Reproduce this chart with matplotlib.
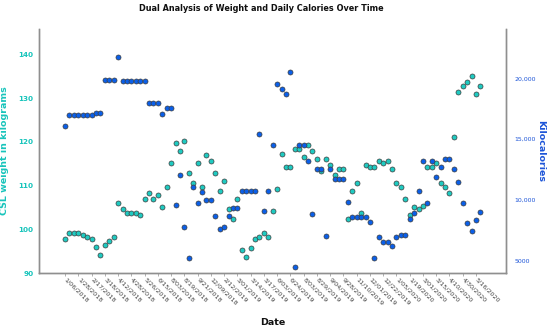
import matplotlib
matplotlib.use("Agg")
import matplotlib.pyplot as plt
import numpy as np

# ---- data ----
weight_kg = [
    97.8, 99.2, 99.2, 99.2, 98.7, 98.3, 97.8, 96.0, 94.2, 96.5,
    97.4, 98.3, 106.0, 104.6, 103.8, 103.8, 103.8, 103.3, 106.9, 108.3,
    106.9, 107.8, 105.1, 109.7, 115.1, 119.7, 117.9, 120.1, 112.8, 110.5,
    115.1, 109.7, 116.9, 115.6, 112.8, 108.7, 111.0, 104.6, 102.3, 106.9,
    95.2, 93.7, 95.8, 97.8, 98.3, 99.2, 98.3, 104.2, 109.2, 117.3,
    114.2, 114.2, 118.3, 118.3, 116.5, 119.2, 117.9, 116.0, 113.3, 116.0,
    114.7, 112.4, 113.7, 113.7, 102.3, 108.7, 110.5, 103.7, 114.7, 114.2,
    114.2, 115.6, 115.1, 115.6, 113.7, 110.5, 109.7, 106.9, 103.2, 105.1,
    104.6, 105.4, 114.2, 114.2, 115.1, 110.5, 109.6, 108.3, 121.0, 131.4,
    132.8, 133.7, 135.1, 131.0, 132.8,
]

kilocalories = [
    16100, 17000, 17000, 17000, 17000, 17000, 17000, 17150, 17150, 19900,
    19900, 19900, 21750, 19800, 19800, 19800, 19800, 19800, 19800, 17950,
    17950, 17950, 17050, 17600, 17600, 9570, 12090, 7770, 5220, 11080,
    9790, 10640, 10010, 10010, 8720, 7650, 7820, 8720, 9320, 9320,
    10720, 10720, 10720, 10720, 15400, 9130, 10720, 14550, 19530, 19100,
    18710, 20490, 4510, 14500, 14500, 13240, 8880, 12580, 12580, 7050,
    12580, 11730, 11730, 11730, 9840, 8640, 8640, 8640, 8640, 8200,
    5270, 6950, 6560, 6560, 6230, 6950, 7140, 7140, 8420, 8940,
    10720, 13240, 9790, 13240, 11900, 12740, 13400, 13400, 12530, 11510,
    9790, 8100, 7490, 8340, 9000,
]

date_tick_labels = [
    "1/06/2018", "1/28/2018", "2/17/2018", "3/18/2018", "4/12/2018", "4/28/2018",
    "5/26/2018", "6/15/2018", "8/03/2018", "8/19/2018", "9/21/2018", "12/09/2018",
    "2/12/2019", "3/01/2019", "3/14/2019", "3/17/2019", "6/03/2019", "6/24/2019",
    "8/03/2019", "8/29/2019", "9/04/2019", "9/28/2019", "11/10/2019", "12/01/2019",
    "12/22/2019", "1/05/2020", "1/19/2020", "3/01/2020", "3/15/2020", "4/10/2020",
    "4/30/2020", "5/16/2020",
]
label_step = 3

left_ticks = [90, 100, 110, 120, 130, 140]
right_ticks = [5000, 10000, 15000, 20000]
right_tick_labels = ["5000", "10,000", "15,000", "20,000"]

# ---- styling ----
TEAL = "#1fcac1"
BLUE = "#0b5fe8"
TEAL_TXT = "#17c4bb"
BLUE_TXT = "#1d55d8"
EDGE = "#3d3d3d"
SPINE = "#8f8f8f"

plt.rcParams["font.family"] = ["DejaVu Sans"]

fig = plt.figure(figsize=(5.5, 3.26), dpi=100)
ax = fig.add_axes([39 / 550, 1 - 273 / 326, (506 - 39) / 550, (273 - 29) / 326])
ax2 = ax.twinx()

x = np.arange(len(weight_kg))
ax.scatter(x, weight_kg, s=13, c=TEAL, edgecolors=EDGE, linewidths=0.5, zorder=3)
ax2.scatter(np.arange(len(kilocalories)), kilocalories, s=13, c=BLUE,
            edgecolors=EDGE, linewidths=0.5, zorder=3)

ax.set_xlim(-5.9, 99.8)
ax.set_ylim(90, 145.8)
ax2.set_ylim(4015, 24050)

ax.set_xticks(np.arange(0, len(date_tick_labels) * label_step, label_step))
ax.set_xticklabels(date_tick_labels, rotation=-45, rotation_mode="anchor",
                   ha="left", va="center", fontsize=4.6, color="#444444")
ax.tick_params(axis="x", length=2, width=0.5, color=SPINE, pad=2)

ax.set_yticks(left_ticks)
ax.tick_params(axis="y", length=0, labelsize=5.2, labelcolor=TEAL_TXT, pad=4)
for t in ax.get_yticklabels():
    t.set_fontweight("bold")

ax2.set_yticks(right_ticks)
ax2.set_yticklabels(right_tick_labels)
ax2.tick_params(axis="y", length=0, labelsize=4.5, labelcolor=BLUE_TXT, pad=6)

for a in (ax, ax2):
    a.spines["top"].set_visible(False)
    for s in ("left", "right", "bottom"):
        a.spines[s].set_color(SPINE)
        a.spines[s].set_linewidth(1.0)

ax.set_ylabel("CSL weight in kilograms", color=TEAL_TXT, fontsize=6.8, fontweight="bold")
ax.yaxis.set_label_coords(-0.064, 0.5)
ax2.set_ylabel("Kilocalories", color=BLUE_TXT, fontsize=6.8, fontweight="bold", rotation=270, va="center")
ax2.yaxis.set_label_coords(1.075, 0.5)
ax.set_xlabel("Date", fontsize=6.8, fontweight="bold", color="#111111")
ax.xaxis.set_label_coords(0.5, -0.184)

fig.text(261 / 550, 1 - 8.7 / 326, "Dual Analysis of Weight and Daily Calories Over Time",
         ha="center", va="center", fontsize=5.9, fontweight="bold", color="#111111")

fig.savefig("out.png", dpi=100)
